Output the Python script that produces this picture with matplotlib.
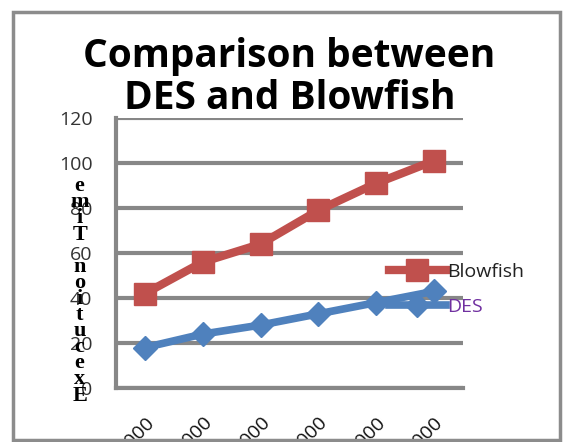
import numpy as np
import matplotlib
matplotlib.use("Agg")
import matplotlib.pyplot as plt
from matplotlib.patches import Rectangle

# --- data ---
sizes = ["1000", "2000", "3000", "4000", "5000", "6000"]
blowfish = [42, 56, 64, 79, 91, 101]
des = [18, 24, 28, 33, 38, 43]
yticks = [0, 20, 40, 60, 80, 100, 120]

GRID = "#878787"
RED = "#C0504D"
BLUE = "#4F81BD"

plt.rcParams["font.family"] = ["Open Sans", "DejaVu Sans"]

fig = plt.figure(figsize=(5.66, 4.42), dpi=100)
ax = fig.add_axes([0.205, 0.122, 0.613, 0.611])

x = np.arange(len(sizes))
ax.plot(x, blowfish, color=RED, lw=6, marker="s", ms=16,
        label="Blowfish", zorder=3)
ax.plot(x, des, color=BLUE, lw=5.5, marker="D", ms=12,
        label="DES", zorder=3)

ax.set_xlim(-0.5, len(sizes) - 0.5)
ax.set_ylim(0, 120)
ax.set_yticks(yticks)
ax.set_yticklabels([str(v) for v in yticks], fontsize=14, color="#333333")
ax.set_xticks(x)
ax.set_xticklabels(sizes, rotation=45, ha="right", va="top",
                   rotation_mode="anchor", fontsize=14, color="#111111")
ax.tick_params(axis="y", length=0, pad=17)
ax.tick_params(axis="x", length=0, pad=18)

ax.grid(axis="y", color=GRID, lw=3)
ax.set_axisbelow(True)
for s in ["top", "right"]:
    ax.spines[s].set_visible(False)
for s in ["left", "bottom"]:
    ax.spines[s].set_color(GRID)
    ax.spines[s].set_linewidth(3)

# y label: letters stacked upright, bottom to top
label = "\n".join(reversed("Execution Time"))
ax.set_ylabel(label, rotation=0, fontsize=16, fontweight="bold",
              family="Liberation Serif", linespacing=0.74,
              ha="center", va="center")
ax.yaxis.set_label_coords(-0.105, 0.36)

ax.set_title("Comparison between\nDES and Blowfish", fontsize=28,
             fontweight="bold", linespacing=1.1, pad=1)

leg = ax.legend(loc="center left", bbox_to_anchor=(0.765, 0.365),
                frameon=False, fontsize=14, handlelength=2.9,
                numpoints=1, labelspacing=0.85, handletextpad=0.1,
                borderaxespad=0)
leg.get_texts()[0].set_color("#222222")
leg.get_texts()[1].set_color("#7030A0")

# outer chart border
fig.patches.append(Rectangle((0.023, 0.005), 0.966, 0.968,
                             transform=fig.transFigure, fill=False,
                             edgecolor="#8c8c8c", lw=2.5))

plt.savefig("out.png", dpi=100)
